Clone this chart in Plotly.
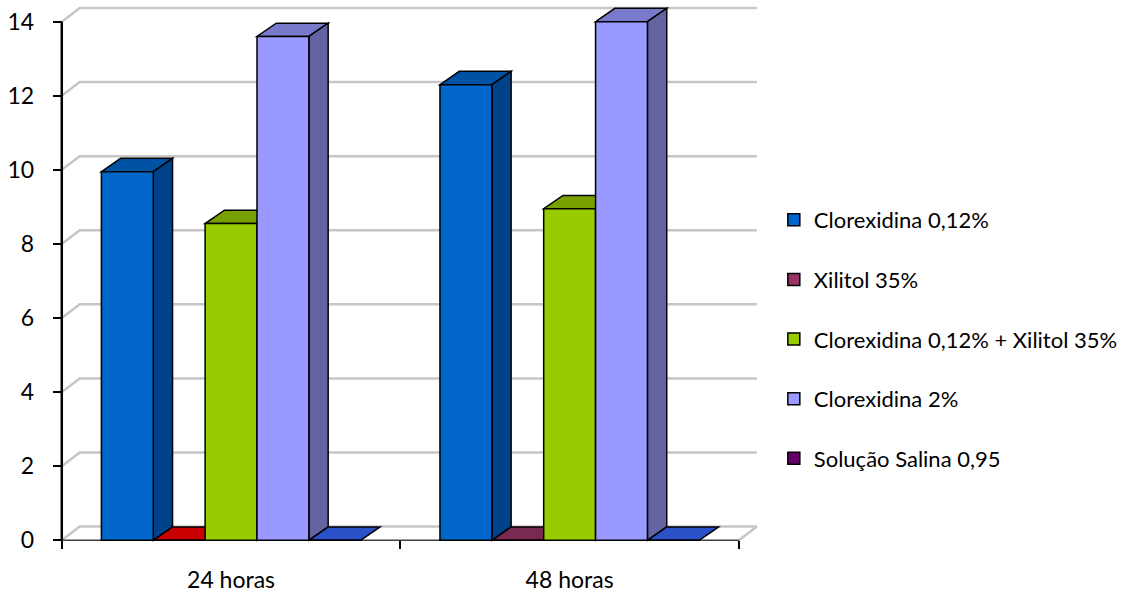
import plotly.graph_objects as go

# Data
categories = ["24 horas", "48 horas"]
series_names = [
    "Clorexidina 0,12%",
    "Xilitol 35%",
    "Clorexidina 0,12% + Xilitol 35%",
    "Clorexidina 2%",
    "Solução Salina 0,95",
]
clorexidina_012 = [9.95, 12.3]
xilitol_35 = [0, 0]
clorexidina_xilitol = [8.55, 8.95]
clorexidina_2 = [13.6, 14.0]
solucao_salina = [0, 0]
y_tick_values = [0, 2, 4, 6, 8, 10, 12, 14]

values = [clorexidina_012, xilitol_35, clorexidina_xilitol, clorexidina_2, solucao_salina]

# Styling: front faces, top faces (per category) and side faces
front_colors = ["#0066CC", "#993366", "#99CC00", "#9999FF", "#660066"]
top_colors = [
    ["#0052A4", "#0052A4"],
    ["#C80000", "#7A2A52"],
    ["#77A000", "#77A000"],
    ["#7A7ACC", "#7A7ACC"],
    ["#2A52C8", "#2A52C8"],
]
side_colors = ["#00428A", "#66224A", "#6E9300", "#6464A3", "#1E3C96"]

x_pos = list(range(len(categories)))
GROUP_W = 0.766
BAR_W = GROUP_W / len(series_names)
DX, DY = 0.057, 0.36      # depth of the columns (data units)
WX, WY = 0.053, 0.37      # depth of the walls / floor
X_LO, X_HI = x_pos[0] - 0.5, x_pos[-1] + 0.5


def poly(points, fill):
    path = "M " + " L ".join(f"{x:.5f},{y:.5f}" for x, y in points) + " Z"
    return dict(type="path", xref="x", yref="y", layer="below", path=path,
                fillcolor=fill, line=dict(color="black", width=1.5))


shapes = []

# Back-wall gridlines with the diagonal on the side wall
grid_line = dict(color="#C6C6C6", width=2.5)
for v in y_tick_values:
    shapes.append(dict(
        type="path", xref="x", yref="y", layer="below",
        path=f"M {X_LO},{v} L {X_LO + WX},{v + WY} L {X_HI + WX},{v + WY}",
        line=grid_line))
# right edge of the floor
shapes.append(dict(type="line", xref="x", yref="y", layer="below",
                   x0=X_HI, y0=0, x1=X_HI + WX, y1=WY, line=grid_line))
# front edge of the floor
shapes.append(dict(type="line", xref="x", yref="y", layer="below",
                   x0=X_LO, y0=0, x1=X_HI, y1=0, line=dict(color="#404040", width=1.5)))

# Top and side faces of each column
for ci, xc in enumerate(x_pos):
    for si, vals in enumerate(values):
        h = vals[ci]
        xl = xc - GROUP_W / 2 + si * BAR_W
        xr = xl + BAR_W
        shapes.append(poly([(xl, h), (xr, h), (xr + DX, h + DY), (xl + DX, h + DY)],
                           top_colors[si][ci]))
        if h > 0:
            shapes.append(poly([(xr, 0), (xr, h), (xr + DX, h + DY), (xr + DX, DY)],
                               side_colors[si]))

# Vertical value axis line
shapes.append(dict(type="line", xref="x", yref="y", layer="above",
                   x0=X_LO, y0=0, x1=X_LO, y1=y_tick_values[-1],
                   line=dict(color="black", width=2.5)))

fig = go.Figure()
for si, name in enumerate(series_names):
    fig.add_trace(go.Bar(
        x=x_pos, y=values[si], name=name, legendgroup=name,
        width=BAR_W, offset=-GROUP_W / 2 + si * BAR_W,
        marker=dict(color=front_colors[si], line=dict(color="black", width=1.5)),
        hoverinfo="y+name",
    ))

X_RANGE = [-0.52, 1.58]
Y_RANGE = [-0.1, 14.45]

fig.update_layout(
    width=1128, height=597,
    margin=dict(l=55, r=358, t=5, b=53),
    paper_bgcolor="white", plot_bgcolor="white",
    barmode="overlay",
    font=dict(family="Lato, sans-serif", size=23, color="black"),
    shapes=shapes,
    showlegend=True,
    legend=dict(x=1.011, xanchor="left", y=0.64, yanchor="top",
                tracegroupgap=28, traceorder="grouped",
                font=dict(size=22), bgcolor="rgba(0,0,0,0)"),
    xaxis=dict(
        range=X_RANGE, tickvals=x_pos, ticktext=categories, ticks="",
        showgrid=False, zeroline=False, showline=False,
        anchor="free", position=(0 - Y_RANGE[0]) / (Y_RANGE[1] - Y_RANGE[0]),
        minor=dict(tickvals=[X_LO + i for i in range(len(categories) + 1)],
                   ticks="outside", ticklen=8, tickwidth=1.5, tickcolor="black",
                   showgrid=False),
        ticklabelstandoff=24,
    ),
    yaxis=dict(
        range=Y_RANGE, tickvals=y_tick_values, ticks="outside", ticklen=9,
        tickwidth=2, tickcolor="black", showgrid=False, zeroline=False,
        showline=False, anchor="free",
        position=(X_LO - X_RANGE[0]) / (X_RANGE[1] - X_RANGE[0]),
        ticklabelstandoff=14,
    ),
)

fig.write_html("out.html")
